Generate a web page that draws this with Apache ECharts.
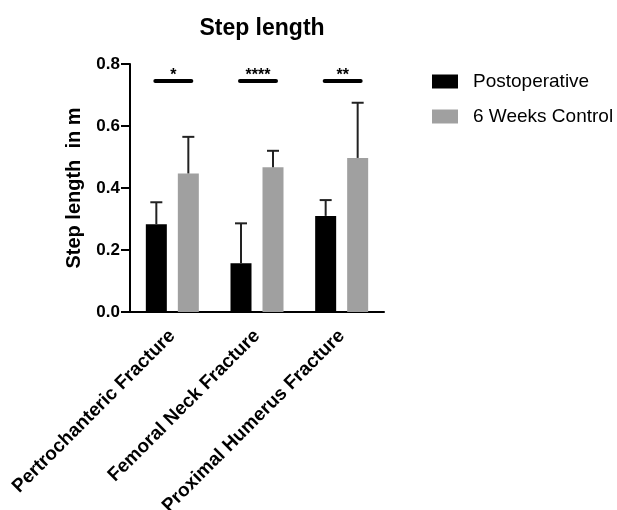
<!DOCTYPE html>
<html>
<head>
<meta charset="utf-8">
<script src="https://cdn.jsdelivr.net/npm/echarts@6/dist/echarts.min.js"></script>
<style>
  html, body { margin: 0; padding: 0; background: #fff; }
  #chart { width: 617px; height: 510px; }
</style>
</head>
<body>
<div id="chart"></div>
<script>
// Data
const categories = ['Pertrochanteric Fracture', 'Femoral Neck Fracture', 'Proximal Humerus Fracture'];
const postop = [0.283, 0.157, 0.310];
const postopErr = [0.354, 0.286, 0.361];   // upper whisker end
const control = [0.447, 0.467, 0.497];
const controlErr = [0.565, 0.520, 0.675];
const sigLabels = ['*', '****', '**'];
const sigLevel = 0.745;
const yTicks = [0, 0.2, 0.4, 0.6, 0.8];

const FONT = 'Liberation Sans, Arial, sans-serif';
const BAR_W = 21;
const BAR_GAP = 11;
const half = (BAR_W + BAR_GAP) / 2;

// error bar drawn above the bar, shifted to the bar's centre
const errRender = (dx) => (params, api) => {
  const base = api.coord([api.value(0), api.value(1)]);
  const top = api.coord([api.value(0), api.value(2)]);
  const x = base[0] + dx;
  const style = { stroke: '#222', lineWidth: 2 };
  return {
    type: 'group',
    children: [
      { type: 'line', shape: { x1: x, y1: base[1], x2: x, y2: top[1] }, style },
      { type: 'line', shape: { x1: x - 6, y1: top[1], x2: x + 6, y2: top[1] }, style }
    ]
  };
};

const sigRender = (params, api) => {
  const p = api.coord([api.value(0), api.value(1)]);
  const x1 = p[0] - half - 1;
  const x2 = p[0] + half + 3;
  return {
    type: 'group',
    children: [
      { type: 'line', shape: { x1, y1: p[1], x2, y2: p[1] },
        style: { stroke: '#000', lineWidth: 4, lineCap: 'round' } },
      { type: 'text', x: (x1 + x2) / 2, y: p[1] + 3,
        style: { text: sigLabels[params.dataIndex], fill: '#000', font: 'bold 16px ' + FONT,
                 textAlign: 'center', textVerticalAlign: 'bottom' } }
    ]
  };
};

const option = {
  animation: false,
  textStyle: { fontFamily: FONT, color: '#000' },
  title: {
    text: 'Step length',
    left: 257,
    textAlign: 'center',
    top: 12,
    textStyle: { fontFamily: FONT, fontSize: 23, fontWeight: 'bold', color: '#000' }
  },
  legend: {
    orient: 'vertical',
    left: 427,
    top: 67,
    itemWidth: 26,
    itemHeight: 14,
    itemGap: 16,
    icon: 'rect',
    data: ['Postoperative', '6 Weeks Control'],
    textStyle: { fontFamily: FONT, fontSize: 19, color: '#000', padding: [0, 0, 0, 10] }
  },
  grid: { left: 130, right: 233, top: 64, bottom: 198, containLabel: false, outerBoundsMode: 'none' },
  xAxis: {
    type: 'category',
    data: categories,
    axisLine: { lineStyle: { color: '#000', width: 2 } },
    axisTick: { alignWithLabel: true, length: 10, lineStyle: { color: '#000', width: 2 } },
    axisLabel: {
      interval: 0, rotate: 45, margin: 21,
      fontFamily: FONT, fontSize: 19, fontWeight: 'bold', color: '#000'
    }
  },
  yAxis: {
    type: 'value',
    min: yTicks[0],
    max: yTicks[yTicks.length - 1],
    interval: 0.2,
    name: 'Step length  in m',
    nameLocation: 'middle',
    nameGap: 46,
    nameTextStyle: { fontFamily: FONT, fontSize: 20, fontWeight: 'bold', color: '#000' },
    splitLine: { show: false },
    axisLine: { show: true, lineStyle: { color: '#000', width: 2 } },
    axisTick: { show: true, length: 9, lineStyle: { color: '#000', width: 2 } },
    axisLabel: {
      margin: 10,
      fontFamily: FONT, fontSize: 17, fontWeight: 'bold', color: '#000',
      formatter: v => v.toFixed(1)
    }
  },
  series: [
    {
      name: 'Postoperative', type: 'bar', data: postop,
      barWidth: BAR_W, barGap: (BAR_GAP / BAR_W * 100) + '%',
      itemStyle: { color: '#000' }
    },
    {
      name: '6 Weeks Control', type: 'bar', data: control,
      barWidth: BAR_W,
      itemStyle: { color: '#a0a0a0' }
    },
    {
      type: 'custom', renderItem: errRender(-half), z: 5,
      data: postop.map((v, i) => [i, v, postopErr[i]])
    },
    {
      type: 'custom', renderItem: errRender(half), z: 5,
      data: control.map((v, i) => [i, v, controlErr[i]])
    },
    {
      type: 'custom', renderItem: sigRender, z: 5,
      data: categories.map((c, i) => [i, sigLevel])
    }
  ]
};

const myChart = echarts.init(document.getElementById('chart'));
myChart.setOption(option);
</script>
</body>
</html>
